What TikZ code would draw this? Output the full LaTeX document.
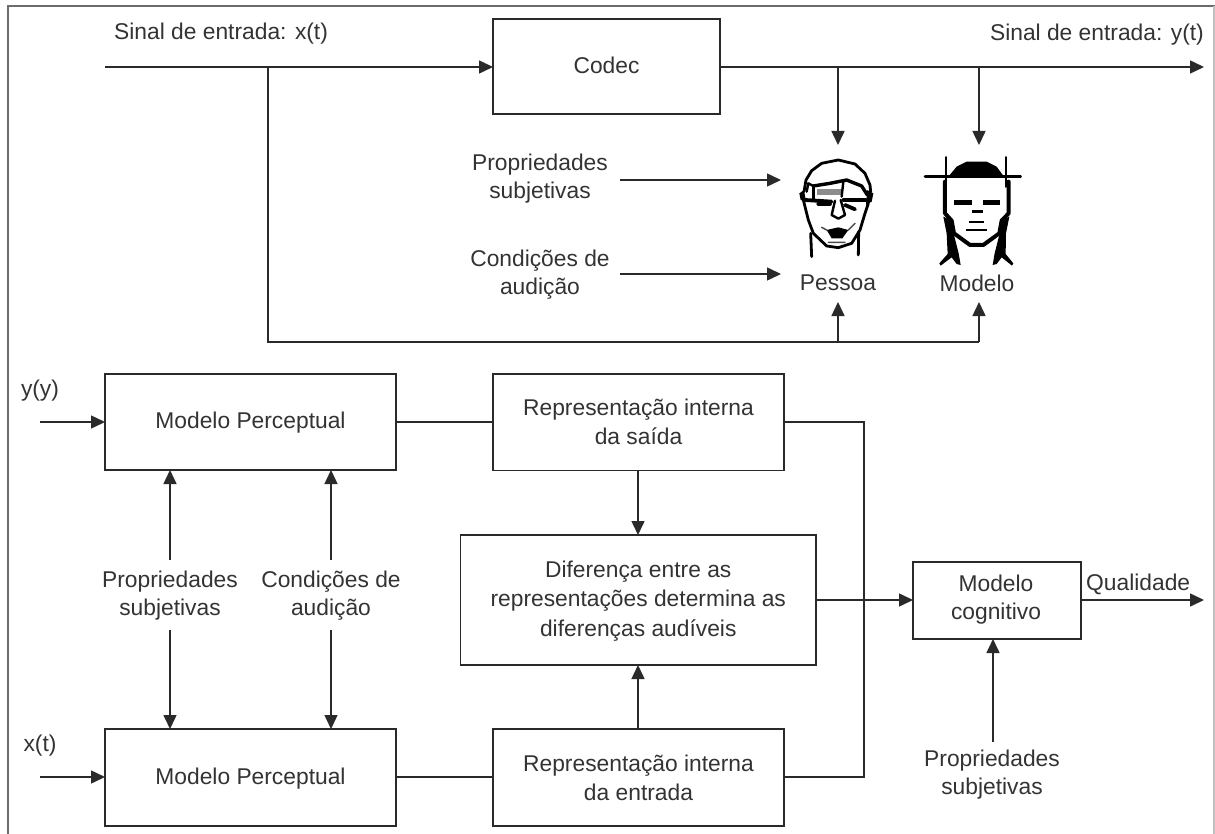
\documentclass[tikz,border=0pt]{standalone}
\usepackage{fontspec}
\setmainfont{Liberation Sans}
\usetikzlibrary{arrows.meta,calc}
\definecolor{txt}{HTML}{333333}
\definecolor{ln}{HTML}{2A2A2A}
\begin{document}
\begin{tikzpicture}[x=1pt,y=-1pt,
  every node/.style={font=\fontsize{22.8}{28}\selectfont,text=txt,align=center,inner sep=0pt},
  blockbox/.style={draw=ln,line width=1.5pt,fill=white,anchor=north west,outer sep=0pt},
  conn/.style={draw=ln,line width=1.5pt},
  arr/.style={conn,-{Triangle[length=14pt,width=13pt]}},
  ink/.style={draw=black,line width=2.4pt,line cap=round,line join=round},
  thinink/.style={draw=black,line width=3.4pt,line cap=round,line join=round}]
\useasboundingbox (0,0) rectangle (1215,834);
% frame
\draw[draw=gray!85!black,line width=2pt] (8,834) -- (8,6) -- (1215,6);
\draw[draw=gray!50,line width=1.2pt] (1214,6) -- (1214,834);
% boxes
\node[blockbox,minimum width=227pt,minimum height=95pt] (codec) at (493,19) {};
\node at ($(codec.center)+(0,-1)$) {Codec};
\node[blockbox,minimum width=291pt,minimum height=96pt] (mp1) at (105,374) {};
\node at ($(mp1.center)+(0,1)$) {Modelo Perceptual};
\node[blockbox,minimum width=291pt,minimum height=96.5pt] (ri1) at (493,374) {};
\node[font=\fontsize{22.8}{29}\selectfont] at (ri1.center) {Representação interna\\da saída};
\node[blockbox,minimum width=355.5pt,minimum height=130pt] (dif) at (460.5,535) {};
\node[font=\fontsize{22.8}{29.5}\selectfont] at ($(dif.center)+(0,1)$) {Diferença entre as\\representações determina as\\diferenças audíveis};
\node[blockbox,minimum width=291pt,minimum height=97pt] (mp2) at (105,729) {};
\node at ($(mp2.center)+(0,1)$) {Modelo Perceptual};
\node[blockbox,minimum width=291pt,minimum height=97pt] (ri2) at (493,729) {};
\node[font=\fontsize{22.8}{29}\selectfont] at (ri2.center) {Representação interna\\da entrada};
\node[blockbox,minimum width=168pt,minimum height=77pt] (cog) at (913,562) {};
\node at ($(cog.center)+(-1,-1)$) {Modelo\\cognitivo};
% labels
\node[anchor=west] (sx) at (114,34) {Sinal de entrada: x(t)};
\node[anchor=east] (sy) at (1204,35) {Sinal de entrada: y(t)};
\node (props) at (540,179) {Propriedades\\subjetivas};
\node (conds) at (540,275) {Condições de\\audição};
\node (pessoa) at (838,283) {Pessoa};
\node (modelo) at (977,283) {Modelo};
\node (yy) at (40,391) {y(y)};
\node (xt) at (40,746) {x(t)};
\node (pl) at (170,596) {Propriedades\\subjetivas};
\node (cl) at (331,596) {Condições de\\audição};
\node[anchor=west] (qual) at (1086,584) {Qualidade};
\node (pc) at (992,775) {Propriedades\\subjetivas};
% coordinates
\coordinate (in) at (105,67);
\coordinate (out) at (1204,67);
\coordinate (j1) at (268,67);
\coordinate (j2) at (268,342);
\coordinate (j3) at (838,342);
\coordinate (j4) at (979,342);
\coordinate (pT) at (838,145);
\coordinate (mT) at (979,145);
\coordinate (pB) at (838,302);
\coordinate (mB) at (979,302);
\coordinate (pA) at (781,180);
\coordinate (pC) at (781,274);
\coordinate (y0) at (40,422);
\coordinate (x0) at (40,777);
\coordinate (bus) at (864,422);
\coordinate (bus2) at (864,777);
\coordinate (qo) at (1204,600);
% top connectors
\draw[arr] (in) -- (in -| codec.west);
\draw[arr] (out -| codec.east) -- (out);
\draw[conn] (j1) -- (j2) -- (j4);
\draw[arr] (j3) -- (pB);
\draw[arr] (j4) -- (mB);
\draw[arr] (pT |- out) -- (pT);
\draw[arr] (mT |- out) -- (mT);
\draw[arr] (620,180) -- (pA);
\draw[arr] (620,274) -- (pC);
% bottom connectors
\draw[arr] (y0) -- (y0 -| mp1.west);
\draw[arr] (x0) -- (x0 -| mp2.west);
\draw[conn] (mp1.east |- y0) -- (ri1.west |- y0);
\draw[conn] (mp2.east |- x0) -- (ri2.west |- x0);
\draw[conn] (ri1.east |- bus) -- (bus) -- (bus2) -- (ri2.east |- bus2);
\draw[arr] (638,470.5) -- (638,535);
\draw[arr] (638,729) -- (638,665);
\draw[arr] (dif.east |- qo) -- (cog.west |- qo);
\draw[arr] (cog.east |- qo) -- (qo);
\draw[arr] (993,742) -- (993,639);
\draw[arr] (170,560) -- (170,470);
\draw[arr] (170,630) -- (170,729);
\draw[arr] (331,560) -- (331,470);
\draw[arr] (331,630) -- (331,729);
% Person face (3x crop from 780,150)
\begin{scope}[shift={(780,150)},x=0.3333pt,y=-0.3333pt]
  \draw[ink,line width=2.8pt] (72,125) -- (78,90) -- (95,62) -- (125,40) -- (175,30) -- (225,42) -- (255,70) -- (270,105) -- (272,125);
  \fill[black] (58,130) -- (72,120) -- (78,155) -- (62,150) -- cycle;
  \fill[black] (262,120) -- (280,130) -- (275,155) -- (258,165) -- cycle;
  \draw[thinink,line width=2.8pt] (70,150) -- (85,210) -- (100,250) -- (140,288) -- (175,293) -- (215,280) -- (240,240) -- (255,190) -- (265,160);
  \draw[ink,line width=2.8pt] (92,250) -- (95,320);
  \draw[ink,line width=2.8pt] (236,245) -- (235,315);
  \draw[thinink] (100,108) -- (150,100) -- (200,90) -- (245,108) -- (262,135);
  \draw[ink] (80,125) -- (85,100) -- (100,108);
  \draw[ink] (100,108) -- (100,150);
  \fill[black!45] (110,116) rectangle (185,135);
  \draw[ink,line width=2.4pt] (190,95) -- (185,140);
  \draw[thinink,line width=3.8pt] (75,150) -- (155,155);
  \draw[thinink] (190,150) -- (258,150);
  \draw[thinink,line width=3.8pt] (115,162) -- (150,162);
  \draw[thinink,line width=3.8pt] (195,165) -- (225,178);
  \draw[ink] (165,152) -- (155,195) -- (175,206) -- (195,195) -- (182,150);
  \fill[black] (140,240) -- (175,232) -- (205,240) -- (187,265) -- (155,265) -- cycle;
  \draw[ink,line width=1.5pt,draw=black!70] (125,232) -- (140,240) (225,220) -- (205,240) (145,277) -- (195,277);
\end{scope}
% Model face (3x crop from 770,150)
\begin{scope}[shift={(770,150)},x=0.3333pt,y=-0.3333pt]
  \fill[black] (535,80) -- (560,50) -- (590,35) -- (650,35) -- (680,50) -- (702,80) -- cycle;
  \draw[ink,line width=2.6pt] (465,80) -- (752,80);
  \draw[ink,line width=2.8pt] (528,22) -- (528,110);
  \draw[ink,line width=2.8pt] (708,22) -- (708,110);
  \draw[line width=4pt,draw=black,line cap=round,line join=round] (525,95) -- (525,190) -- (545,212) -- (552,250) -- (600,285) -- (640,285) -- (688,250) -- (695,212) -- (716,190) -- (716,95);
  \fill[black] (552,150) rectangle (605,165);
  \fill[black] (640,150) rectangle (690,165);
  \fill[black] (605,180) rectangle (640,189);
  \fill[black] (598,214) rectangle (642,220);
  \fill[black] (588,238) rectangle (652,244);
  \fill[black] (520,200) -- (545,212) -- (552,255) -- (566,310) -- (572,345) -- (560,342) -- (545,322) -- (512,347) -- (508,340) -- (533,312) -- (530,250) -- cycle;
  \fill[black] (718,200) -- (695,212) -- (688,255) -- (674,310) -- (668,345) -- (680,342) -- (695,322) -- (726,347) -- (730,340) -- (707,312) -- (708,250) -- cycle;
\end{scope}
\end{tikzpicture}
\end{document}
